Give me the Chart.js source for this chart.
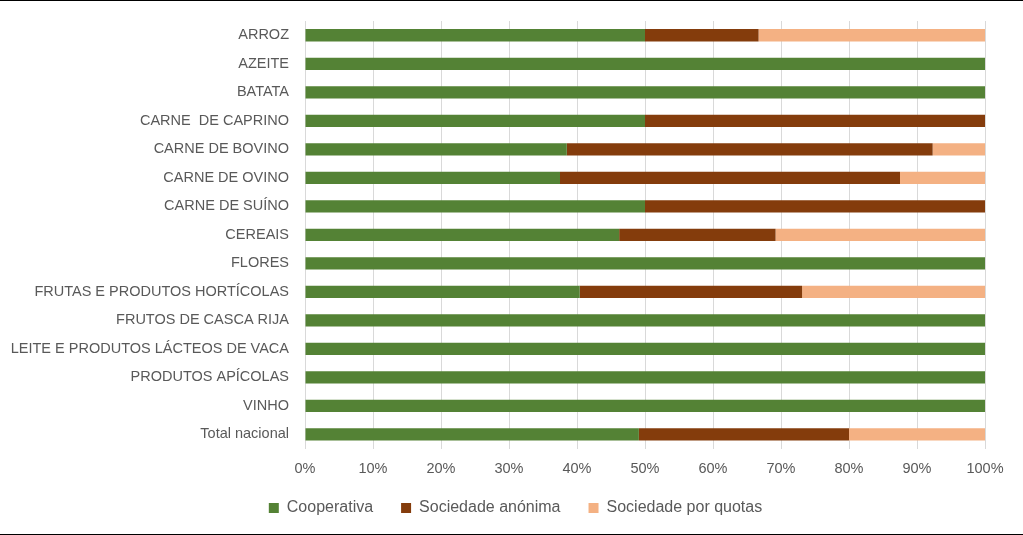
<!DOCTYPE html>
<html><head><meta charset="utf-8">
<script src="https://cdn.jsdelivr.net/npm/chart.js@4/dist/chart.umd.min.js"></script>
<style>
html,body{margin:0;padding:0;background:#fff;}
#wrap{width:1023px;height:535px;position:relative;box-sizing:border-box;border-top:1px solid #000;border-bottom:1px solid #000;}
canvas{display:block;}
</style></head><body>
<div id="wrap"><canvas id="c" width="1023" height="533"></canvas></div>
<script>
const categories = ["ARROZ","AZEITE","BATATA","CARNE  DE CAPRINO","CARNE DE BOVINO","CARNE DE OVINO","CARNE DE SUÍNO","CEREAIS","FLORES","FRUTAS E PRODUTOS HORTÍCOLAS","FRUTOS DE CASCA RIJA","LEITE E PRODUTOS LÁCTEOS DE VACA","PRODUTOS APÍCOLAS","VINHO","Total nacional"];
const cooperativa = [50, 100, 100, 50, 38.5, 37.5, 50, 46.2, 100, 40.4, 100, 100, 100, 100, 49.1];
const sociedadeAnonima = [16.7, 0, 0, 50, 53.8, 50, 50, 23.0, 0, 32.7, 0, 0, 0, 0, 30.9];
const sociedadeQuotas = [33.3, 0, 0, 0, 7.7, 12.5, 0, 30.8, 0, 26.9, 0, 0, 0, 0, 20.0];
const seriesNames = ["Cooperativa","Sociedade anónima","Sociedade por quotas"];
const colors = ["#548235","#843C0C","#F4B183"];
const FONT = "'Liberation Sans',sans-serif";

new Chart(document.getElementById('c'), {
  type: 'bar',
  data: {
    labels: categories,
    datasets: [cooperativa, sociedadeAnonima, sociedadeQuotas].map((d,i)=>({
      label: seriesNames[i], data: d, backgroundColor: colors[i], borderWidth: 0,
      barPercentage: 0.43, categoryPercentage: 1.0
    }))
  },
  options: {
    indexAxis: 'y',
    responsive: false,
    animation: false,
    layout: { padding: { left: 0, right: 38, top: 20, bottom: 0 } },
    scales: {
      x: {
        stacked: true, min: 0, max: 100,
        ticks: { stepSize: 10, callback: v => v + '%', color: '#595959', font: { family: FONT, size: 14.5 }, padding: 12 },
        grid: { color: '#d9d9d9', drawTicks: false },
        border: { display: false }
      },
      y: {
        stacked: true,
        afterFit: s => { s.width = 305; s.paddingTop = 0; s.paddingBottom = 0; },
        ticks: { color: '#595959', font: { family: FONT, size: 14.5 }, padding: 16, autoSkip: false },
        grid: { display: false, drawTicks: false },
        border: { display: false }
      }
    },
    plugins: {
      legend: {
        position: 'bottom',
        labels: { color: '#595959', font: { family: FONT, size: 16 }, boxWidth: 10, boxHeight: 10, padding: 28 }
      },
      tooltip: { enabled: false }
    }
  },
  plugins: [{
    id: 'legendTweak',
    beforeInit(chart) {
      const lg = chart.legend;
      if (lg && !lg._patched) {
        const f = lg.fit;
        lg.fit = function() { f.call(this); this.height = 44; };
        lg._patched = true;
      }
    },
    afterLayout(chart) {
      const lg = chart.legend;
      if (lg) { lg.left += 23; lg.right += 23; lg.top -= 18; lg.bottom -= 18; }
    }
  }]
});
</script>
</body></html>
